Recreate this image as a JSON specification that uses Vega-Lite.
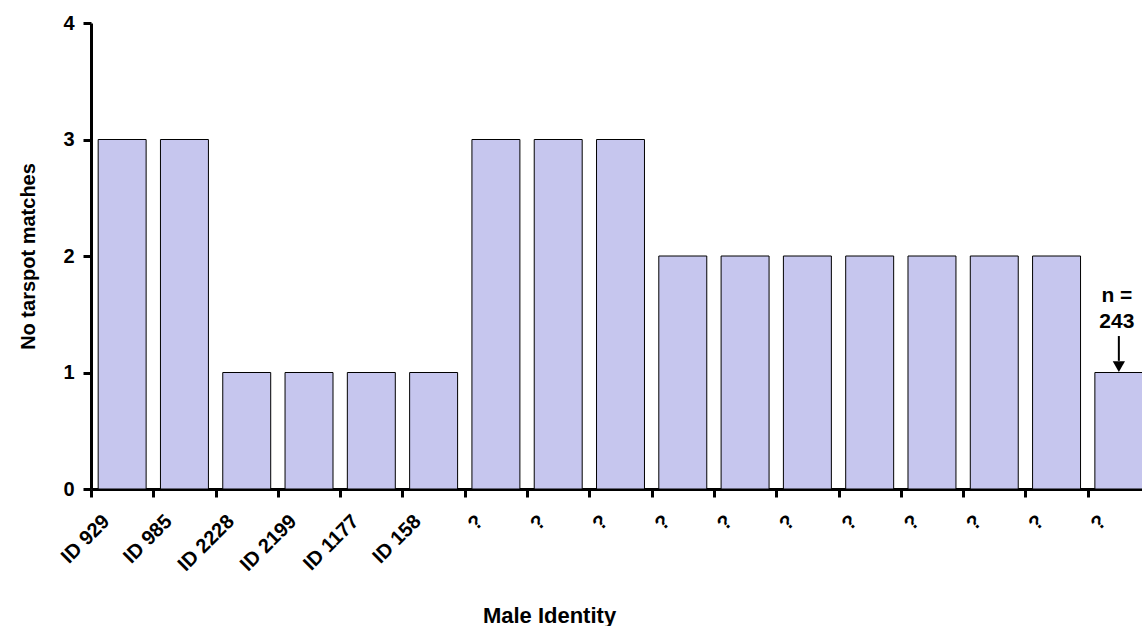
{
  "$schema": "https://vega.github.io/schema/vega-lite/v6.json",
  "autosize": {"type": "none"},
  "width": 1059,
  "height": 466,
  "padding": {"left": 91, "top": 23, "right": -8, "bottom": 137},
  "background": "white",
  "config": {"view": {"stroke": null}, "font": "Liberation Sans"},
  "datasets": {
    "bars": [
      {"male": "ID 929", "matches": 3},
      {"male": "ID 985", "matches": 3},
      {"male": "ID 2228", "matches": 1},
      {"male": "ID 2199", "matches": 1},
      {"male": "ID 1177", "matches": 1},
      {"male": "ID 158", "matches": 1},
      {"male": "?1", "matches": 3},
      {"male": "?2", "matches": 3},
      {"male": "?3", "matches": 3},
      {"male": "?4", "matches": 2},
      {"male": "?5", "matches": 2},
      {"male": "?6", "matches": 2},
      {"male": "?7", "matches": 2},
      {"male": "?8", "matches": 2},
      {"male": "?9", "matches": 2},
      {"male": "?10", "matches": 2},
      {"male": "?11", "matches": 1}
    ],
    "notes": [
      {"male": "?11", "label": "n =", "pos": 1.605},
      {"male": "?11", "label": "243", "pos": 1.382}
    ],
    "arrow": [
      {"male": "?11", "top": 1.313, "bottom": 1.1, "head": 1.05}
    ]
  },
  "layer": [
    {
      "data": {"name": "bars"},
      "mark": {"type": "bar", "fill": "#c6c6ee", "stroke": "#000000", "strokeWidth": 1},
      "encoding": {
        "x": {
          "field": "male",
          "type": "nominal",
          "sort": null,
          "scale": {"paddingInner": 0.23, "paddingOuter": 0.115},
          "axis": {
            "labelExpr": "isValid(datum.value) ? (slice(datum.value,0,1)=='?' ? '?' : datum.value) : ''",
            "labelAngle": -45,
            "labelAlign": "right",
            "labelBaseline": "middle",
            "labelFontSize": 20,
            "labelFontWeight": "bold",
            "labelColor": "#000000",
            "labelOffset": 15,
            "labelPadding": 21,
            "tickOffset": -31.15,
            "domainColor": "#000000",
            "domainWidth": 3,
            "tickColor": "#000000",
            "tickWidth": 3,
            "tickSize": 8,
            "grid": false,
            "title": "Male Identity",
            "titleFontSize": 22,
            "titleFontWeight": "bold",
            "titleColor": "#000000",
            "titleX": 458,
            "titleY": 133,
            "titleBaseline": "alphabetic"
          }
        },
        "y": {
          "field": "matches",
          "type": "quantitative",
          "scale": {"domain": [0, 4]},
          "axis": {
            "values": [0, 1, 2, 3, 4],
            "format": "d",
            "grid": false,
            "labelFontSize": 20,
            "labelFontWeight": "bold",
            "labelColor": "#000000",
            "labelPadding": 9,
            "domainColor": "#000000",
            "domainWidth": 3,
            "tickColor": "#000000",
            "tickWidth": 3,
            "tickSize": 8,
            "title": "No tarspot matches",
            "titleFontSize": 20,
            "titleFontWeight": "bold",
            "titleColor": "#000000",
            "titlePadding": 24
          }
        }
      }
    },
    {
      "data": {"name": "notes"},
      "mark": {"type": "text", "fontSize": 21, "fontWeight": "bold", "align": "center", "baseline": "alphabetic", "color": "#000000", "dx": -2},
      "encoding": {
        "x": {"field": "male", "type": "nominal", "sort": null},
        "y": {"field": "pos", "type": "quantitative"},
        "text": {"field": "label"}
      }
    },
    {
      "data": {"name": "arrow"},
      "mark": {"type": "rule", "strokeWidth": 2, "color": "#000000"},
      "encoding": {
        "x": {"field": "male", "type": "nominal", "sort": null},
        "y": {"field": "top", "type": "quantitative"},
        "y2": {"field": "bottom"}
      }
    },
    {
      "data": {"name": "arrow"},
      "mark": {"type": "point", "shape": "triangle-down", "filled": true, "size": 150, "color": "#000000", "opacity": 1},
      "encoding": {
        "x": {"field": "male", "type": "nominal", "sort": null},
        "y": {"field": "head", "type": "quantitative"}
      }
    }
  ]
}
